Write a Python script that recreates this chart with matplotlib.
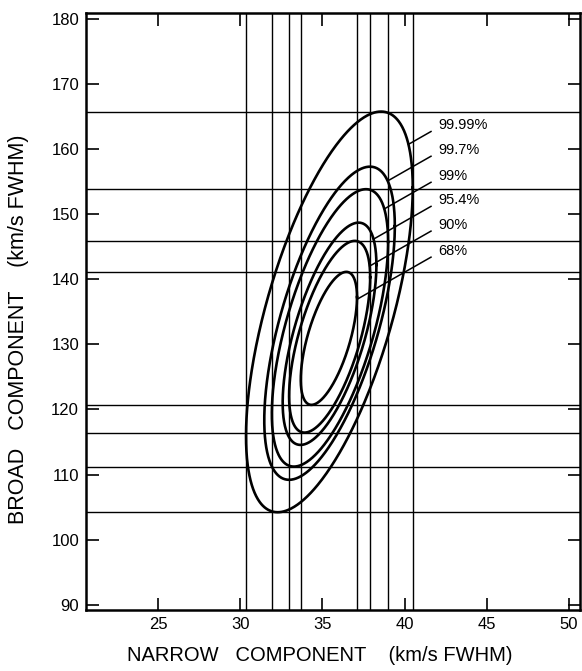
import matplotlib.pyplot as plt
import numpy as np

plt.rcParams['font.family'] = ['Liberation Sans', 'DejaVu Sans']

# confidence contours, innermost first
levels = ['68%', '90%', '95.4%', '99%', '99.7%', '99.99%']
x_lo = [33.68, 32.97, 32.58, 31.92, 31.46, 30.35]
x_hi = [37.10, 37.90, 38.28, 38.99, 39.40, 40.49]
y_lo = [120.71, 116.45, 114.56, 111.23, 109.20, 104.22]
y_hi = [141.14, 145.90, 148.70, 153.84, 157.30, 165.76]
has_bounds = [True, True, False, True, False, True]
rho = 0.62
label_y = [144.4, 148.4, 152.2, 155.9, 159.9, 163.7]

xticks = [25, 30, 35, 40, 45, 50]
yticks = [90, 100, 110, 120, 130, 140, 150, 160, 170, 180]

fig = plt.figure(figsize=(5.82, 6.71), dpi=100)
ax = fig.add_axes([0.1478, 0.0909, 0.849, 0.8897])
ax.set_xlim(20.62, 50.67)
ax.set_ylim(89.2, 180.9)

t = np.linspace(0, 2 * np.pi, 600)
delta = np.arccos(rho)


def inside(x, y, i):
    cx = (x_lo[i] + x_hi[i]) / 2
    cy = (y_lo[i] + y_hi[i]) / 2
    u = (x - cx) / ((x_hi[i] - x_lo[i]) / 2)
    v = (y - cy) / ((y_hi[i] - y_lo[i]) / 2)
    return (u * u - 2 * rho * u * v + v * v) / (1 - rho ** 2) <= 1


for i in range(len(levels)):
    cx = (x_lo[i] + x_hi[i]) / 2
    cy = (y_lo[i] + y_hi[i]) / 2
    hw = (x_hi[i] - x_lo[i]) / 2
    hh = (y_hi[i] - y_lo[i]) / 2
    ax.plot(cx + hw * np.cos(t), cy + hh * np.cos(t - delta), color='black', lw=1.9, zorder=3)

    # bounding lines of the projected intervals
    if has_bounds[i]:
        for xv in (x_lo[i], x_hi[i]):
            ax.axvline(xv, color='black', lw=1.0, zorder=2)
        for yv in (y_lo[i], y_hi[i]):
            ax.axhline(yv, color='black', lw=1.0, zorder=2)

    # label with a leader running down to its contour
    ax.text(42.05, label_y[i], levels[i], fontsize=10.5, va='center', ha='left')
    x0, y0 = 41.6, label_y[i] - 1.0
    s = np.linspace(0, 12, 4000)
    lx = x0 - s
    ly = y0 - 1.44 * s
    hit = np.argmax(inside(lx, ly, i))
    ax.plot([x0, lx[hit]], [y0, ly[hit]], color='black', lw=1.1, zorder=3)

ax.set_xticks(xticks)
ax.set_yticks(yticks)
ax.tick_params(direction='in', top=True, right=True, length=9, width=1.2, labelsize=12, pad=5)
for sp in ax.spines.values():
    sp.set_linewidth(1.8)

ax.set_xlabel('NARROW   COMPONENT    (km/s FWHM)', fontsize=14.5)
ax.xaxis.set_label_coords(0.474, -0.06)
ax.set_ylabel('BROAD   COMPONENT    (km/s FWHM)', fontsize=15.5)
ax.yaxis.set_label_coords(-0.115, 0.47)

fig.savefig('out.png', dpi=100)
